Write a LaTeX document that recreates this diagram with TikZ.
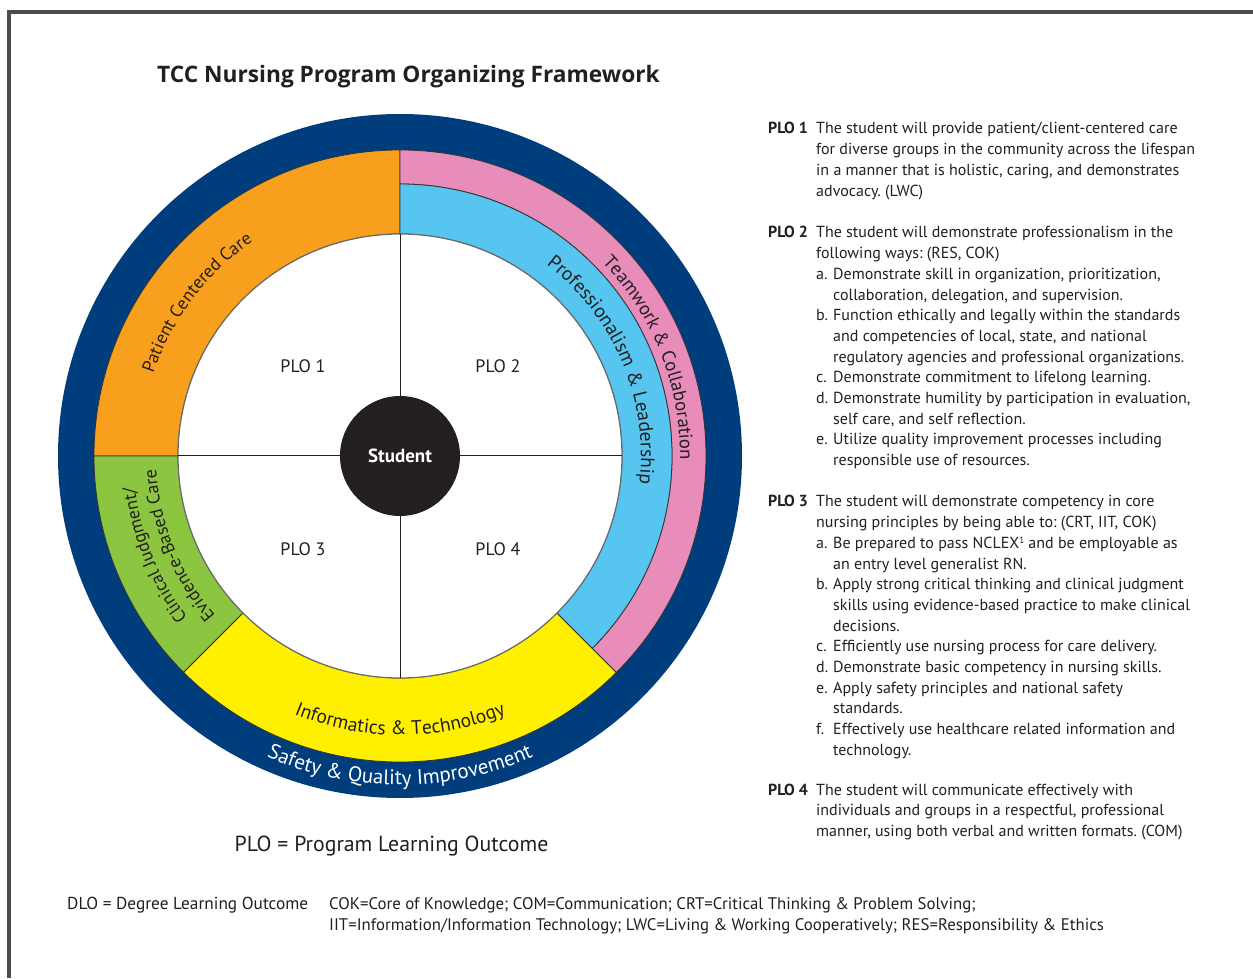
\documentclass[tikz,border=0pt]{standalone}
\usepackage{fontspec}
\setmainfont{PT Sans}
\newfontfamily\titlefont{Open Sans}
\usetikzlibrary{decorations.text}
\definecolor{navy}{HTML}{003D7C}
\definecolor{orng}{HTML}{F8A01E}
\definecolor{pnk}{HTML}{E88DBA}
\definecolor{lblue}{HTML}{56C5F0}
\definecolor{grn}{HTML}{8CC540}
\definecolor{ylw}{HTML}{FFF000}
\definecolor{ink}{HTML}{231F20}
\definecolor{framegray}{HTML}{4D4D4D}
\definecolor{seg}{HTML}{333333}
\definecolor{rimgray}{HTML}{6A6A6A}
\newcommand\arcfont{\fontsize{18}{18}\selectfont}
\newcommand\arcfontb{\fontsize{18.8}{18.8}\selectfont}
\newcommand\arcfontc{\fontsize{19.5}{19.5}\selectfont}
\newcommand\safefont{\fontsize{21}{21}\selectfont}
\newcommand\rfont{\fontsize{16}{20}\selectfont}
\newcommand\plit[1]{\makebox[17pt][l]{#1}}
\newcommand\plcont{\hspace*{17pt}}
\newcommand\supone{\raisebox{5pt}{\fontsize{9}{9}\selectfont 1}}
\tikzset{
  band/.style={fill=#1, draw=seg, line width=0.8pt},
  rtxt/.style={anchor=base west, inner sep=0pt, font=\rfont\frenchspacing, text=ink},
  rlab/.style={anchor=base west, inner sep=0pt, font=\rfont\bfseries, text=ink},
  quadlab/.style={anchor=base, inner sep=0pt, font=\fontsize{18}{18}\selectfont, text=ink},
  studentnode/.style={circle, fill=ink, minimum size=120pt, inner sep=0pt, text=white, font=\fontsize{19}{19}\selectfont\bfseries},
  quadline/.style={draw=ink, line width=1pt},
  arctxt/.style={decorate, decoration={text along path, text align=center, text color=#1}},
  captxt/.style={anchor=base west, inner sep=0pt, font=\fontsize{16.8}{16.8}\selectfont\frenchspacing, text=ink},
}
\begin{document}
\begin{tikzpicture}[x=1pt,y=1pt]
\useasboundingbox (0,0) rectangle (1253,978);
\fill[white] (0,0) rectangle (1253,978);
\draw[framegray, line width=4pt] (8.5,0) -- (8.5,966) -- (1253,966);

% title
\node[anchor=base, inner sep=0pt, font=\titlefont\fontsize{22.7}{22.7}\selectfont\bfseries, text=ink] (title) at (408.5,895) {TCC Nursing Program Organizing Framework};

% wheel
\begin{scope}[shift={(400,522)}]
\fill[navy] (0,0) circle[radius=342];
\filldraw[band=orng] (90:306) arc[start angle=90, end angle=180, radius=306] -- (180:222) arc[start angle=180, end angle=90, radius=222] -- cycle;
\filldraw[band=grn] (180:306) arc[start angle=180, end angle=225, radius=306] -- (225:222) arc[start angle=225, end angle=180, radius=222] -- cycle;
\filldraw[band=ylw] (225:306) arc[start angle=225, end angle=315, radius=306] -- (315:222) arc[start angle=315, end angle=225, radius=222] -- cycle;
\filldraw[band=pnk] (-45:306) arc[start angle=-45, end angle=90, radius=306] -- (90:272) arc[start angle=90, end angle=-45, radius=272] -- cycle;
\filldraw[band=lblue] (-45:272) arc[start angle=-45, end angle=90, radius=272] -- (90:222) arc[start angle=90, end angle=-45, radius=222] -- cycle;
\filldraw[fill=white, draw=rimgray, line width=1.2pt] (0,0) circle[radius=222];

\coordinate (qn) at (90:222);
\coordinate (qs) at (270:222);
\coordinate (qw) at (180:222);
\coordinate (qe) at (0:222);
\node[studentnode] (student) at (0,0) {Student};
\draw[quadline] (student) -- (qn);
\draw[quadline] (student) -- (qs);
\draw[quadline] (student) -- (qw);
\draw[quadline] (student) -- (qe);

\node[quadlab] (plo1) at (-97,83) {PLO 1};
\node[quadlab] (plo2) at (98,83) {PLO 2};
\node[quadlab] (plo3) at (-97,-100) {PLO 3};
\node[quadlab] (plo4) at (98,-100) {PLO 4};

\path[arctxt=ink, decoration={text={|\arcfont|Patient Centered Care}}] (173:260) arc[start angle=173, end angle=113, radius=260];
\path[arctxt=ink, decoration={text={|\arcfontb|Teamwork {\&} Collaboration}}] (60:280) arc[start angle=60, end angle=-17, radius=280];
\path[arctxt=ink, decoration={text={|\arcfontc|Professionalism {\&} Leadership}}] (63:241) arc[start angle=63, end angle=-17, radius=241];
\path[arctxt=ink, decoration={text={|\arcfont|Clinical Judgment/}}] (232:267) arc[start angle=232, end angle=172, radius=267];
\path[arctxt=ink, decoration={text={|\arcfont|Evidence-Based Care}}] (232:244) arc[start angle=232, end angle=172, radius=244];
\path[arctxt=ink, decoration={text={|\arcfontc|Informatics {\&} Technology}}] (233:279) arc[start angle=233, end angle=307, radius=279];
\path[arctxt=white, decoration={text={|\safefont|Safety {\&} Quality Improvement}}] (235:329) arc[start angle=235, end angle=305, radius=329];
\end{scope}

% right text
\node[rlab] (l1) at (768,844) {PLO 1};
\foreach \t [count=\i from 0] in {
  {The student will provide patient/client-centered care},
  {for diverse groups in the community across the lifespan},
  {in a manner that is holistic, caring, and demonstrates},
  {advocacy. (LWC)}}
  \node[rtxt] (r1-\i) at (816,{844-\i*20.7}) {\t};

\node[rlab] (l2) at (768,740) {PLO 2};
\foreach \t [count=\i from 0] in {
  {The student will demonstrate professionalism in the},
  {following ways: (RES, COK)},
  {\plit{a.}Demonstrate skill in organization, prioritization,},
  {\plcont collaboration, delegation, and supervision.},
  {\plit{b.}Function ethically and legally within the standards},
  {\plcont and competencies of local, state, and national},
  {\plcont regulatory agencies and professional organizations.},
  {\plit{c.}Demonstrate commitment to lifelong learning.},
  {\plit{d.}Demonstrate humility by participation in evaluation,},
  {\plcont self care, and self reflection.},
  {\plit{e.}Utilize quality improvement processes including},
  {\plcont responsible use of resources.}}
  \node[rtxt] (r2-\i) at (816,{740-\i*20.7}) {\t};

\node[rlab] (l3) at (768,471) {PLO 3};
\foreach \t [count=\i from 0] in {
  {The student will demonstrate competency in core},
  {nursing principles by being able to: (CRT, IIT, COK)},
  {\plit{a.}Be prepared to pass NCLEX\supone{} and be employable as},
  {\plcont an entry level generalist RN.},
  {\plit{b.}Apply strong critical thinking and clinical judgment},
  {\plcont skills using evidence-based practice to make clinical},
  {\plcont decisions.},
  {\plit{c.}Efficiently use nursing process for care delivery.},
  {\plit{d.}Demonstrate basic competency in nursing skills.},
  {\plit{e.}Apply safety principles and national safety},
  {\plcont standards.},
  {\plit{f.}Effectively use healthcare related information and},
  {\plcont technology.}}
  \node[rtxt] (r3-\i) at (816,{471-\i*20.7}) {\t};

\node[rlab] (l4) at (768,183) {PLO 4};
\foreach \t [count=\i from 0] in {
  {The student will communicate effectively with},
  {individuals and groups in a respectful, professional},
  {manner, using both verbal and written formats. (COM)}}
  \node[rtxt] (r4-\i) at (816,{183-\i*20.7}) {\t};

% bottom captions
\node[anchor=base, inner sep=0pt, font=\fontsize{21.8}{21.8}\selectfont, text=ink] (plodef) at (391.5,127) {PLO = Program Learning Outcome};
\node[captxt, font=\fontsize{17.3}{17.3}\selectfont] (dlodef) at (67,69) {DLO = Degree Learning Outcome};
\node[captxt] (abbr1) at (329,69) {COK=Core of Knowledge; COM=Communication; CRT=Critical Thinking \& Problem Solving;};
\node[captxt] (abbr2) at (329,48) {IIT=Information/Information Technology; LWC=Living \& Working Cooperatively; RES=Responsibility \& Ethics};
\end{tikzpicture}
\end{document}
